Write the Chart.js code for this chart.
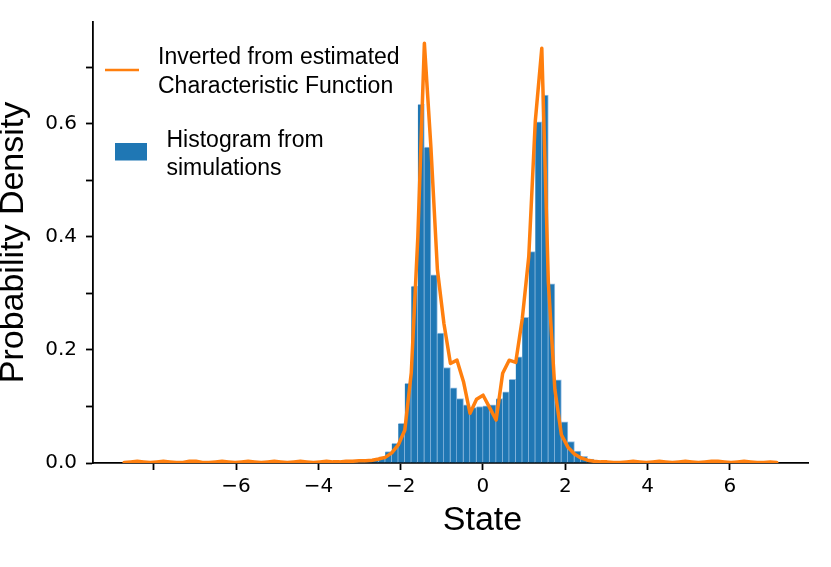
<!DOCTYPE html>
<html>
<head>
<meta charset="utf-8">
<script src="https://cdn.jsdelivr.net/npm/chart.js@4.4.1/dist/chart.umd.min.js"></script>
<style>
html,body{margin:0;padding:0;background:#ffffff;}
#wrap{width:831px;height:567px;position:relative;}
</style>
</head>
<body>
<div id="wrap"><canvas id="c" width="831" height="567"></canvas></div>
<script>
// ---- data ----
const binEdges = [
 -8.720,-8.561,-8.403,-8.244,-8.086,-7.927,-7.768,-7.610,-7.451,-7.293,
 -7.134,-6.975,-6.817,-6.658,-6.500,-6.341,-6.182,-6.024,-5.865,-5.707,
 -5.548,-5.389,-5.231,-5.072,-4.914,-4.755,-4.596,-4.438,-4.279,-4.121,
 -3.962,-3.803,-3.645,-3.486,-3.328,-3.169,-3.010,-2.852,-2.693,-2.535,
 -2.376,-2.217,-2.059,-1.900,-1.742,-1.583,-1.424,-1.266,-1.107,-0.949,
 -0.790,-0.631,-0.473,-0.314,-0.156,0.003,0.162,0.320,0.479,0.637,
 0.796,0.955,1.113,1.272,1.430,1.589,1.748,1.906,2.065,2.223,
 2.382,2.541,2.699,2.858,3.016,3.175,3.334,3.492,3.651,3.809,
 3.968,4.127,4.285,4.444,4.602,4.761,4.920,5.078,5.237,5.395,
 5.554,5.713,5.871,6.030,6.188,6.347,6.506,6.664,6.823,6.981,
 7.140
];

const histDensity = [
 0,0,0,0,0,0,0,0,0,0,
 0,0,0,0,0,0,0,0,0,0,
 0,0,0,0,0,0,0,0,0,0,
 0,0,0,0.0003,0.0008,0.0015,0.0025,0.004,0.007,0.011,
 0.020,0.035,0.070,0.141,0.313,0.635,0.559,0.333,0.230,0.169,
 0.133,0.114,0.103,0.098,0.100,0.101,0.103,0.114,0.126,0.148,
 0.188,0.258,0.374,0.604,0.651,0.317,0.147,0.073,0.038,0.021,
 0.012,0.007,0.004,0.002,0.001,0.0005,0,0,0,0,
 0,0,0,0,0,0,0,0,0,0,
 0,0,0,0,0,0,0,0,0,0
];

const lineDensity = [
 0.001,0.002,0.003,0.002,0.001,0.002,0.003,0.002,0.001,0.001,
 0.003,0.003,0.001,0.001,0.002,0.003,0.002,0.001,0.002,0.003,
 0.002,0.001,0.002,0.003,0.002,0.001,0.002,0.003,0.002,0.001,
 0.002,0.003,0.002,0.002,0.003,0.003,0.004,0.004,0.005,0.007,
 0.010,0.018,0.032,0.058,0.160,0.400,0.743,0.560,0.342,0.247,
 0.176,0.182,0.144,0.088,0.113,0.120,0.098,0.076,0.159,0.182,
 0.178,0.255,0.365,0.605,0.734,0.320,0.130,0.050,0.028,0.016,
 0.009,0.005,0.003,0.002,0.002,0.001,0.001,0.002,0.003,0.002,
 0.001,0.002,0.003,0.002,0.001,0.002,0.003,0.002,0.001,0.002,
 0.003,0.003,0.002,0.001,0.002,0.003,0.002,0.001,0.001,0.002,
 0.001
];

const xTickValues = [-8,-6,-4,-2,0,2,4,6];
const xTickLabels = ['','\u22126','\u22124','\u22122','0','2','4','6'];
const yTickValues = [0,0.1,0.2,0.3,0.4,0.5,0.6,0.7];
const yTickLabels = ['0.0','','0.2','','0.4','','0.6',''];
const xRange = [-9.478, 7.90];
const yRange = [0, 0.7805];
const xTitle = 'State';
const yTitle = 'Probability Density';
const lineLabel = ['Inverted from estimated','Characteristic Function'];
const histLabel = ['Histogram from','simulations'];

// ---- styles ----
const BLUE = '#1f77b4';
const ORANGE = '#ff7f0e';
const TEXT_FONT = 'Liberation Sans, Arial, Helvetica, sans-serif';
const TICK_FONT = 'DejaVu Sans, sans-serif';

const binCenters = histDensity.map((_, i) => (binEdges[i] + binEdges[i + 1]) / 2);
const histPoints = histDensity.map((v, i) => ({x: binCenters[i], y: v}));
const linePoints = lineDensity.map((v, i) => ({x: binEdges[i], y: v}));

const customText = {
  id: 'customText',
  afterDraw(chart) {
    const ctx = chart.ctx;
    ctx.save();
    // legend: line handle
    ctx.strokeStyle = ORANGE;
    ctx.lineWidth = 2.5;
    ctx.beginPath();
    ctx.moveTo(105, 70);
    ctx.lineTo(139, 70);
    ctx.stroke();
    // legend: bar handle
    ctx.fillStyle = BLUE;
    ctx.fillRect(115, 143, 32, 17.5);
    // legend text
    ctx.fillStyle = '#000';
    ctx.font = '23px ' + TEXT_FONT;
    ctx.textAlign = 'left';
    ctx.textBaseline = 'alphabetic';
    ctx.fillText(lineLabel[0], 158, 64);
    ctx.fillText(lineLabel[1], 158, 93.3);
    ctx.fillText(histLabel[0], 166.5, 146.7);
    ctx.fillText(histLabel[1], 166.5, 175);
    // x axis title
    ctx.font = '34px ' + TEXT_FONT;
    ctx.textAlign = 'center';
    ctx.fillText(xTitle, 482.5, 530);
    ctx.restore();
  }
};

new Chart(document.getElementById('c'), {
  type: 'bar',
  data: {
    datasets: [
      {
        type: 'line',
        label: lineLabel.join(' '),
        data: linePoints,
        borderColor: ORANGE,
        backgroundColor: ORANGE,
        borderWidth: 3.5,
        pointRadius: 0,
        tension: 0,
        fill: false,
        borderJoinStyle: 'round',
        borderCapStyle: 'round'
      },
      {
        type: 'bar',
        label: histLabel.join(' '),
        data: histPoints,
        backgroundColor: BLUE,
        borderColor: 'rgba(125,175,220,0.8)',
        borderWidth: {top: 1, right: 1, left: 0, bottom: 0},
        borderSkipped: false,
        barPercentage: 1,
        categoryPercentage: 1
      }
    ]
  },
  options: {
    responsive: false,
    animation: false,
    devicePixelRatio: 1,
    layout: {padding: {left: 0, right: 23, top: 22, bottom: 0}},
    plugins: {
      legend: {display: false},
      tooltip: {enabled: false},
      title: {display: false}
    },
    scales: {
      x: {
        type: 'linear',
        offset: false,
        min: xRange[0],
        max: xRange[1],
        afterBuildTicks: (s) => { s.ticks = xTickValues.map(v => ({value: v})); },
        afterFit: (s) => { s.height = 104; },
        ticks: {
          autoSkip: false,
          maxRotation: 0,
          padding: 5,
          color: '#000',
          font: {family: TICK_FONT, size: 20},
          callback: (v, i) => xTickLabels[i]
        },
        grid: {display: true, offset: false, drawOnChartArea: false, drawTicks: true, tickLength: 7, tickColor: '#000', tickWidth: 1.8},
        border: {display: true, color: '#000', width: 1.8},
        title: {display: false}
      },
      y: {
        type: 'linear',
        min: yRange[0],
        max: yRange[1],
        afterBuildTicks: (s) => { s.ticks = yTickValues.map(v => ({value: v})); },
        afterFit: (s) => { s.width = 93; },
        ticks: {
          padding: 9,
          color: '#000',
          font: {family: TICK_FONT, size: 20},
          callback: (v, i) => yTickLabels[i]
        },
        grid: {display: true, offset: false, drawOnChartArea: false, drawTicks: true, tickLength: 7, tickColor: '#000', tickWidth: 1.8},
        border: {display: true, color: '#000', width: 1.8},
        title: {
          display: true,
          text: yTitle,
          color: '#000',
          padding: 0,
          font: {family: TEXT_FONT, size: 34, lineHeight: 0.79}
        }
      }
    }
  },
  plugins: [customText]
});
</script>
</body>
</html>
